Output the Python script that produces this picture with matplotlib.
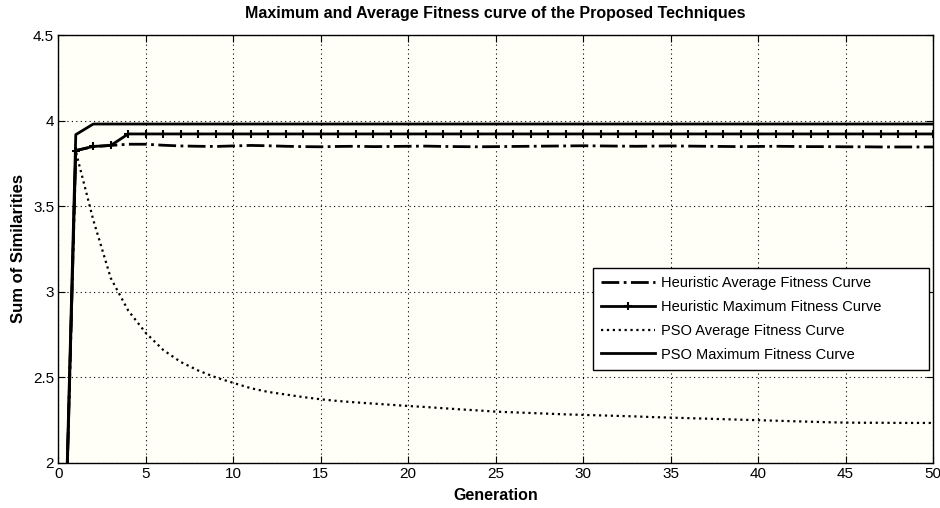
import numpy as np
import matplotlib.pyplot as plt

plt.rcParams['font.family'] = ['Liberation Sans', 'DejaVu Sans']

generation = np.arange(0, 51)

heur_avg = [0.0, 3.825, 3.848, 3.855, 3.862, 3.862, 3.856, 3.852, 3.850, 3.849,
            3.852, 3.855, 3.853, 3.850, 3.848, 3.847, 3.849, 3.850, 3.848, 3.849,
            3.850, 3.851, 3.849, 3.848, 3.847, 3.848, 3.849, 3.850, 3.851, 3.852,
            3.853, 3.852, 3.851, 3.850, 3.851, 3.852, 3.851, 3.850, 3.849, 3.848,
            3.849, 3.850, 3.849, 3.848, 3.848, 3.847, 3.847, 3.846, 3.846, 3.846,
            3.846]
heur_max = [0.0, 3.825, 3.849, 3.855] + [3.922] * 47
pso_avg = [0.0, 3.82, 3.42, 3.08, 2.89, 2.76, 2.66, 2.59, 2.54, 2.50,
           2.468, 2.437, 2.415, 2.40, 2.385, 2.372, 2.362, 2.354, 2.347, 2.340,
           2.333, 2.327, 2.320, 2.313, 2.307, 2.300, 2.296, 2.292, 2.288, 2.284,
           2.281, 2.278, 2.275, 2.272, 2.268, 2.265, 2.262, 2.259, 2.256, 2.253,
           2.250, 2.247, 2.244, 2.241, 2.238, 2.236, 2.235, 2.235, 2.234, 2.234,
           2.234]
pso_max = [0.0, 3.918] + [3.98] * 49

labels = ['Heuristic Average Fitness Curve', 'Heuristic Maximum Fitness Curve',
          'PSO Average Fitness Curve', 'PSO Maximum Fitness Curve']

fig = plt.figure(figsize=(9.4, 5.08), dpi=100)
ax = fig.add_axes([0.062, 0.0886, 0.9306, 0.8425])
ax.set_facecolor('#fffff7')

ax.plot(generation, heur_avg, 'k-.', lw=2.0, label=labels[0])
ax.plot(generation, heur_max, 'k-', lw=2.0, marker='+', ms=5.5, mew=1.5, label=labels[1])
ax.plot(generation, pso_avg, 'k:', lw=1.6, label=labels[2])
ax.plot(generation, pso_max, 'k-', lw=2.0, label=labels[3])

ax.set_xlim(0, 50)
ax.set_ylim(2, 4.5)
ax.set_xticks(np.arange(0, 51, 5))
ax.set_yticks([2, 2.5, 3, 3.5, 4, 4.5])
ax.set_yticklabels(['2', '2.5', '3', '3.5', '4', '4.5'])
ax.grid(True, color='k', linestyle=(0, (1, 3)), linewidth=0.8)
ax.tick_params(direction='in', top=True, right=True, length=5, labelsize=11, pad=3)
for s in ax.spines.values():
    s.set_linewidth(1.0)

ax.set_title('Maximum and Average Fitness curve of the Proposed Techniques',
             fontsize=11.5, fontweight='bold', pad=12)
ax.set_xlabel('Generation', fontsize=11.5, fontweight='bold', labelpad=5)
ax.set_ylabel('Sum of Similarities', fontsize=12, fontweight='bold', labelpad=5)

# legend box is wider than its text in the original, so stretch it
leg = ax.legend(loc='upper left', bbox_to_anchor=(0.611, 0.0, 0.384, 0.456),
                mode='expand', borderaxespad=0, borderpad=0.55,
                fancybox=False, framealpha=1, edgecolor='k', fontsize=10.5,
                handlelength=3.7, handletextpad=0.45, labelspacing=0.68)
leg.get_frame().set_linewidth(1.0)

fig.savefig('out.png', dpi=100)
